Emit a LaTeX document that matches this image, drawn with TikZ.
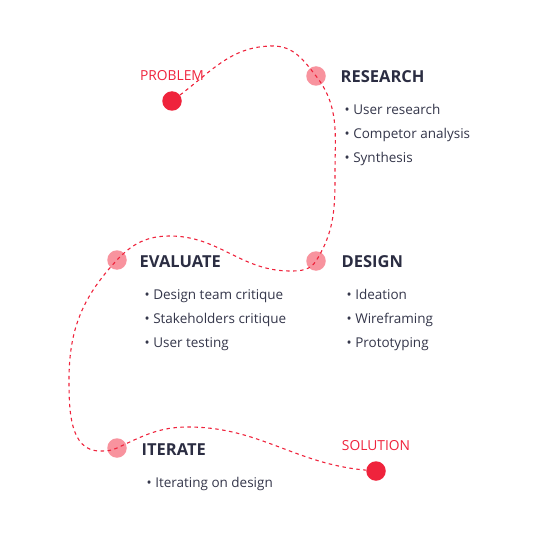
\documentclass[tikz,border=0pt]{standalone}
\usepackage{fontspec}
\setmainfont{Open Sans}
\usepackage{tikz}

\definecolor{accent}{HTML}{EF233C}
\definecolor{soft}{HTML}{F8939E}
\definecolor{ink}{HTML}{2B2D42}
\definecolor{body}{HTML}{34364A}

\begin{document}
\begin{tikzpicture}[x=1pt,y=1pt,
  endpoint/.style={circle,fill=accent,minimum size=19.5pt,inner sep=0},
  stage/.style={circle,fill=soft,minimum size=19.5pt,inner sep=0},
  title/.style={anchor=base west,inner sep=0,font=\fontsize{16.5}{20}\selectfont\bfseries,text=ink},
  tag/.style={anchor=base,inner sep=0,font=\fontsize{13.8}{16}\selectfont,text=accent},
  item/.style={anchor=base west,inner sep=0,font=\fontsize{13.5}{16}\selectfont,text=body},
  route/.style={accent,line width=1.1pt,dash pattern=on 3.5pt off 3.5pt}]
\useasboundingbox (0,0) rectangle (540,-540);
\path (172,-101) node[endpoint] (problem) {}
  (316,-76) node[stage] (research) {}
  (316,-261) node[stage] (design) {}
  (117,-260) node[stage] (evaluate) {}
  (117,-448) node[stage] (iterate) {}
  (376,-471) node[endpoint] (solution) {};
\path (273,-46) coordinate (top1)
  (335,-172) coordinate (right1)
  (290,-271) coordinate (low1)
  (170,-236) coordinate (top2)
  (69,-380) coordinate (left1)
  (100,-451) coordinate (low2)
  (188,-427) coordinate (top3);
% the dashed way through the stages
\draw[route] (problem) to[out=37,in=180] (top1) to[out=0,in=128] (research.center)
  to[out=-52,in=90] (right1) to[out=-90,in=58] (design.center)
  to[out=-122,in=0] (low1) to[out=180,in=0] (top2) to[out=180,in=47] (evaluate.center)
  to[out=-133,in=90] (left1) to[out=-90,in=180] (low2) to[out=0,in=205] (iterate.center)
  to[out=25,in=180] (top3) to[out=0,in=175] (solution);
% labels
\path (172,-81) node[tag] (problem-t) {PROBLEM}
  (376,-450) node[tag] (solution-t) {SOLUTION}
  (340.5,-83) node[title] (research-t) {RESEARCH}
  (341.5,-267) node[title] (design-t) {DESIGN}
  (139.5,-267) node[title] (evaluate-t) {EVALUATE}
  (141.5,-455) node[title] (iterate-t) {ITERATE};
% lists
\path (344.5,-115) node[item] (research-1) {•\ User research}
  (344.5,-139) node[item] (research-2) {•\ Competor analysis}
  (344.5,-163) node[item] (research-3) {•\ Synthesis}
  (346.5,-299) node[item] (design-1) {•\ Ideation}
  (346.5,-323) node[item] (design-2) {•\ Wireframing}
  (346.5,-347) node[item] (design-3) {•\ Prototyping}
  (144.5,-299) node[item] (evaluate-1) {•\ Design team critique}
  (144.5,-323) node[item] (evaluate-2) {•\ Stakeholders critique}
  (144.5,-347) node[item] (evaluate-3) {•\ User testing}
  (146.5,-487) node[item] (iterate-1) {•\ Iterating on design};
\end{tikzpicture}
\end{document}
